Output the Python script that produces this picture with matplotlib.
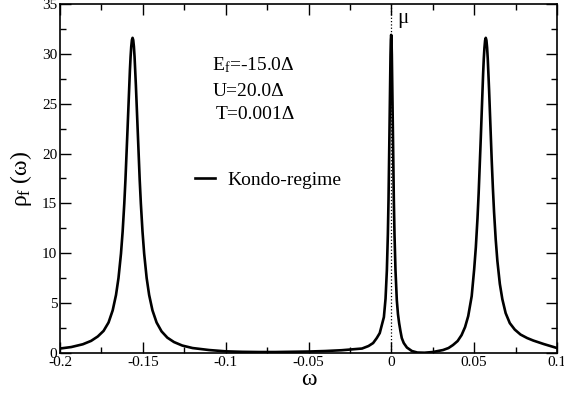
import matplotlib
matplotlib.use('Agg')
import matplotlib.pyplot as plt
from matplotlib.ticker import MultipleLocator

plt.rcParams['font.family'] = ['Liberation Serif', 'DejaVu Serif']
plt.rcParams['mathtext.fontset'] = 'custom'
plt.rcParams['mathtext.rm'] = 'Liberation Serif'
plt.rcParams['mathtext.it'] = 'Liberation Serif:italic'

# spectral function
omega = [-0.2, -0.1932, -0.1862, -0.1812, -0.1772, -0.1737, -0.1707, -0.1682, -0.1662,
         -0.1647, -0.1632, -0.1622, -0.1612, -0.1605, -0.1598, -0.1592, -0.1587, -0.1582,
         -0.1578, -0.1574, -0.157, -0.1566, -0.1562, -0.1558, -0.1554, -0.155, -0.1546,
         -0.1542, -0.1537, -0.1532, -0.1526, -0.1519, -0.1512, -0.1502, -0.1492, -0.1477,
         -0.1462, -0.1442, -0.1417, -0.1387, -0.1352, -0.1312, -0.1262, -0.12, -0.11, -0.1,
         -0.09, -0.08, -0.07, -0.06, -0.05, -0.04, -0.03, -0.025, -0.0177, -0.0138, -0.011,
         -0.0088, -0.007, -0.0054, -0.0045, -0.0035, -0.0027, -0.0021, -0.0017, -0.0014,
         -0.0011, -0.0009, -0.0007, -0.0005, -0.0003, -0.0001, 0.0001, 0.0003, 0.0005,
         0.0007, 0.0009, 0.0012, 0.0015, 0.0019, 0.0025, 0.0033, 0.004, 0.0047, 0.0055,
         0.0063, 0.0075, 0.0094, 0.0124, 0.0157, 0.02, 0.025, 0.028, 0.0312, 0.0345, 0.0372,
         0.04, 0.0424, 0.0445, 0.0464, 0.0485, 0.05, 0.051, 0.052, 0.0527, 0.0534, 0.054,
         0.0545, 0.055, 0.0554, 0.0558, 0.0562, 0.0566, 0.057, 0.0574, 0.0578, 0.0582,
         0.0586, 0.059, 0.0595, 0.06, 0.0606, 0.0613, 0.062, 0.063, 0.064, 0.0655, 0.067,
         0.069, 0.0715, 0.0745, 0.078, 0.082, 0.0857, 0.092, 0.1]
rho = [0.45, 0.6, 0.88, 1.22, 1.66, 2.22, 3.06, 4.28, 5.82,
       7.52, 9.96, 12.17, 14.99, 17.37, 20.07, 22.59, 24.75, 26.84,
       28.38, 29.7, 30.73, 31.38, 31.6, 31.38, 30.73, 29.7, 28.38,
       26.84, 24.75, 22.59, 20.07, 17.37, 14.99, 12.17, 9.96, 7.52,
       5.82, 4.28, 3.06, 2.17, 1.54, 1.1, 0.75, 0.5, 0.3, 0.17,
       0.12, 0.1, 0.1, 0.12, 0.15, 0.2, 0.28, 0.35, 0.45, 0.7, 1.0,
       1.5, 2.0, 3.0, 3.6, 5.45, 8.3, 11.9, 15.4, 18.7,
       22.5, 25.1, 27.7, 29.9, 31.4, 31.9, 31.4, 29.9, 27.7,
       25.1, 22.5, 18.7, 15.4, 11.9, 8.3, 5.3, 3.9, 3.0, 2.2,
       1.5, 1.0, 0.55, 0.2, 0.05, 0.03, 0.1, 0.2, 0.3, 0.5, 0.8,
       1.2, 1.8, 2.6, 3.7, 5.7, 8.4, 10.6, 13.5, 16.0, 18.9, 21.6,
       24.0, 26.3, 28.0, 29.5, 30.6, 31.35, 31.6, 31.35, 30.63, 29.5,
       28.05, 26.39, 24.15, 21.88, 19.27, 16.52, 14.14, 11.38, 9.24, 6.92, 5.4,
       4.0, 3.0, 2.35, 1.85, 1.5, 1.25, 0.9, 0.5]

xticks = [-0.2, -0.15, -0.1, -0.05, 0, 0.05, 0.1]
xticklabels = ['-0.2', '-0.15', '-0.1', '-0.05', '0', '0.05', '0.1']
yticks = [0, 5, 10, 15, 20, 25, 30, 35]

fig = plt.figure(figsize=(5.64, 3.94), dpi=100)
ax = fig.add_axes([0.1064, 0.104, 0.8812, 0.886])

# chemical potential
ax.axvline(0, color='black', linestyle=':', linewidth=0.9)
ax.plot(omega, rho, color='black', linewidth=1.9, label='Kondo-regime')

ax.set_xlim(-0.2, 0.1)
ax.set_ylim(0, 35)
ax.set_xticks(xticks)
ax.set_xticklabels(xticklabels)
ax.set_yticks(yticks)
ax.xaxis.set_minor_locator(MultipleLocator(0.025))
ax.yaxis.set_minor_locator(MultipleLocator(2.5))
ax.tick_params(which='both', direction='in', top=True, right=True, labelsize=11, pad=2)
ax.tick_params(which='major', length=8, width=1)
ax.tick_params(which='minor', length=4, width=1)
for s in ax.spines.values():
    s.set_linewidth(1.2)

ax.set_xlabel('ω', fontsize=17, labelpad=0)
ax.set_ylabel(r'ρ$_{\rm f}$ (ω)', fontsize=17, labelpad=6)

ax.text(0.0035, 33.5, 'μ', fontsize=15, va='center', ha='left')
ax.text(-0.1084, 28.9, r'E$_{\rm f}$=-15.0Δ', fontsize=14, va='center')
ax.text(-0.1077, 26.2, 'U=20.0Δ', fontsize=14, va='center')
ax.text(-0.1058, 23.9, 'T=0.001Δ', fontsize=14, va='center')

ax.legend(loc='center left', bbox_to_anchor=(0.272, 0.496), frameon=False,
          fontsize=14, handlelength=1.0, handletextpad=0.65, borderpad=0,
          borderaxespad=0)

fig.savefig('out.png', dpi=100)
